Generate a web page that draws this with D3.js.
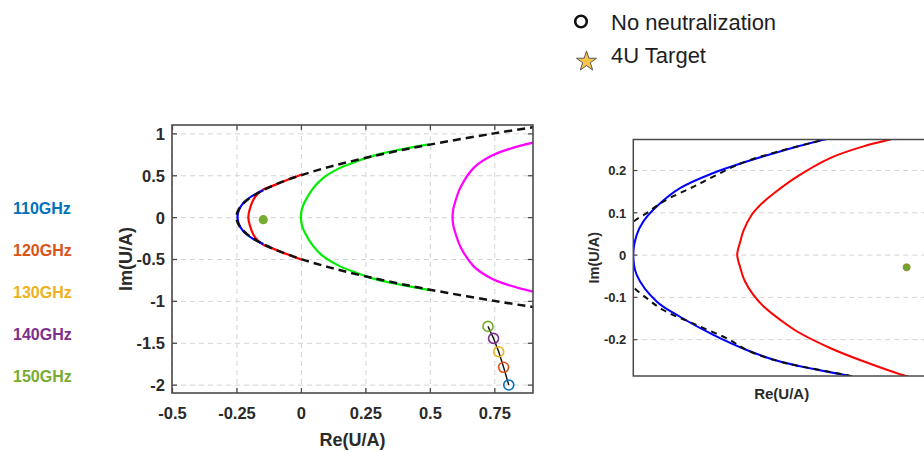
<!DOCTYPE html>
<html><head><meta charset="utf-8">
<script src="https://cdn.jsdelivr.net/npm/d3@7"></script>
<style>
html,body{margin:0;padding:0;background:#fff;}
svg{display:block;font-family:"Liberation Sans",Arial,Helvetica,sans-serif;}
</style></head>
<body><svg id="c" width="924" height="451"></svg>
<script>
// ---------- data ----------
const freqLabels = ["110GHz","120GHz","130GHz","140GHz","150GHz"];
const freqColors = ["#0072BD","#D95319","#EDB120","#7E2F8E","#77AC30"];
const noNeutRe = [0.806, 0.786, 0.767, 0.747, 0.7255];
const noNeutIm = [-2.004, -1.793, -1.607, -1.448, -1.305];
const target = [-0.146, -0.03];

const xTicks = [-0.5, -0.25, 0, 0.25, 0.5, 0.75];
const xTickLabels = ["-0.5", "-0.25", "0", "0.25", "0.5", "0.75"];
const yTicks = [-2, -1.5, -1, -0.5, 0, 0.5, 1];
const yTickLabels = ["-2", "-1.5", "-1", "-0.5", "0", "0.5", "1"];
const insetYTicks = [-0.2, -0.1, 0, 0.1, 0.2];
const insetYTickLabels = ["-0.2", "-0.1", "0", "0.1", "0.2"];

// main panel curves [Re, Im]
const dashedCurve = [[0.92,-1.08],[0.9,-1.073],[0.75,-1.0],[0.56,-0.9],[0.39,-0.8],[0.24,-0.7],[0.11,-0.6],[0.0,-0.5],[-0.09,-0.4],[-0.16,-0.3],[-0.21,-0.2],[-0.24,-0.1],[-0.25,0],
  [-0.24,0.1],[-0.21,0.2],[-0.16,0.3],[-0.09,0.4],[0.0,0.5],[0.11,0.6],[0.24,0.7],[0.39,0.8],[0.56,0.9],[0.75,1.0],[0.9,1.073],[0.92,1.08]];
const blueCurve = [[-0.146,-0.32],[-0.19,-0.25],[-0.223,-0.17],[-0.241,-0.08],[-0.246,0],[-0.241,0.08],[-0.223,0.17],[-0.19,0.25],[-0.146,0.32]];
const redCurve = [[0.0035,-0.508],[-0.056,-0.44],[-0.113,-0.37],[-0.146,-0.33],[-0.167,-0.28],[-0.184,-0.21],[-0.198,-0.1],[-0.204,0],
  [-0.198,0.1],[-0.184,0.21],[-0.167,0.28],[-0.146,0.33],[-0.113,0.37],[-0.056,0.44],[0.0035,0.508]];
const greenCurve = [[0.5,-0.87],[0.489,-0.865],[0.385,-0.806],[0.295,-0.746],[0.217,-0.667],[0.152,-0.588],[0.087,-0.47],[0.0485,-0.35],[0.016,-0.19],[0.004,-0.1],[0,0],
  [0.004,0.1],[0.016,0.19],[0.0485,0.35],[0.087,0.47],[0.152,0.588],[0.217,0.667],[0.295,0.746],[0.385,0.806],[0.489,0.865],[0.5,0.87]];
const magentaCurve = [[0.92,-0.9],[0.896,-0.886],[0.80,-0.806],[0.735,-0.726],[0.67,-0.588],[0.618,-0.35],[0.599,-0.19],[0.591,-0.1],[0.588,0],
  [0.591,0.1],[0.599,0.19],[0.618,0.35],[0.67,0.588],[0.735,0.726],[0.80,0.806],[0.896,0.886],[0.92,0.9]];

// inset (zoom) curves [Re, Im]
const insetDashed = [[-0.166,-0.295],[-0.1703,-0.287],[-0.195,-0.253],[-0.2067,-0.2256],[-0.2125,-0.202],[-0.2243,-0.1664],[-0.236,-0.131],[-0.2418,-0.103],[-0.2465,-0.0757],[-0.2485,-0.045],[-0.2495,0],
  [-0.2485,0.045],[-0.2465,0.0767],[-0.2418,0.098],[-0.236,0.1254],[-0.2243,0.164],[-0.2125,0.2045],[-0.2067,0.221],[-0.195,0.245],[-0.1798,0.2715],[-0.175,0.28]];
const insetBlue = [[-0.1703,-0.287],[-0.195,-0.253],[-0.2067,-0.2256],[-0.2184,-0.19],[-0.2301,-0.147],[-0.2383,-0.111],[-0.2453,-0.048],[-0.2465,0],
  [-0.2453,0.0466],[-0.243,0.078],[-0.2383,0.1136],[-0.2301,0.157],[-0.2184,0.193],[-0.2067,0.22],[-0.195,0.244],[-0.1798,0.2715],[-0.177,0.276]];
const insetRed = [[-0.148,-0.292],[-0.1505,-0.2878],[-0.1657,-0.2523],[-0.1774,-0.2208],[-0.1891,-0.1813],[-0.195,-0.1538],[-0.2008,-0.1222],[-0.2044,-0.0948],[-0.2073,-0.0631],[-0.2089,-0.0317],[-0.21,0],
  [-0.2089,0.0314],[-0.2079,0.0551],[-0.2049,0.0943],[-0.2008,0.1245],[-0.195,0.156],[-0.1891,0.184],[-0.1774,0.2283],[-0.1657,0.256],[-0.1566,0.2716],[-0.154,0.276]];
const insetTarget = [-0.1505, -0.03];

// ---------- drawing ----------
const svg = d3.select("#c");
const tickColor = "#2a2a2a";
const boxColor = "#4a4a4a";

function styleGrid(g){
  g.select(".domain").remove();
  g.selectAll("line").attr("stroke","#d4d4d4").attr("stroke-width",1).attr("stroke-dasharray","5,4");
  g.selectAll("text").remove();
}

// ===== main panel =====
const M = {x0:172, x1:533, y0:125, y1:393};
const x = d3.scaleLinear().domain([-0.5,0.9]).range([M.x0,M.x1]);
const y = d3.scaleLinear().domain([-2.1,1.1]).range([M.y1,M.y0]);
const W = M.x1-M.x0, H = M.y1-M.y0;

svg.append("defs").append("clipPath").attr("id","clipMain")
  .append("rect").attr("x",M.x0).attr("y",M.y0).attr("width",W).attr("height",H);

svg.append("g").attr("transform",`translate(0,${M.y1})`)
  .call(d3.axisBottom(x).tickValues(xTicks).tickSize(-H)).call(styleGrid);
svg.append("g").attr("transform",`translate(${M.x0},0)`)
  .call(d3.axisLeft(y).tickValues(yTicks).tickSize(-W)).call(styleGrid);

const line = d3.line().x(d=>x(d[0])).y(d=>y(d[1])).curve(d3.curveCatmullRom);
const plot = svg.append("g").attr("clip-path","url(#clipMain)");
plot.append("path").datum(redCurve).attr("d",line).attr("fill","none").attr("stroke","#ff0000").attr("stroke-width",2.2);
plot.append("path").datum(greenCurve).attr("d",line).attr("fill","none").attr("stroke","#00ee00").attr("stroke-width",2.2);
plot.append("path").datum(magentaCurve).attr("d",line).attr("fill","none").attr("stroke","#ff00ff").attr("stroke-width",2.2);
plot.append("path").datum(blueCurve).attr("d",line).attr("fill","none").attr("stroke","#0000ff").attr("stroke-width",2.2);
plot.append("path").datum(dashedCurve).attr("d",line).attr("fill","none").attr("stroke","#111").attr("stroke-width",2.5).attr("stroke-dasharray","8,5");

// target dot
plot.append("circle").attr("cx",x(target[0])).attr("cy",y(target[1])).attr("r",4.6).attr("fill","#77AC30");

// no neutralization points
const nn = noNeutRe.map((r,i)=>[r,noNeutIm[i]]);
plot.append("path").datum(nn).attr("d",d3.line().x(d=>x(d[0])).y(d=>y(d[1])))
  .attr("fill","none").attr("stroke","#111").attr("stroke-width",1.4);
plot.selectAll("circle.nn").data(nn).join("circle").attr("class","nn")
  .attr("cx",d=>x(d[0])).attr("cy",d=>y(d[1])).attr("r",5)
  .attr("fill","none").attr("stroke",(d,i)=>freqColors[i]).attr("stroke-width",1.6);

// axes (ticks inward)
const axB = svg.append("g").attr("transform",`translate(0,${M.y1})`)
  .call(d3.axisBottom(x).tickValues(xTicks).tickFormat((d,i)=>xTickLabels[i]).tickSizeInner(-5).tickSizeOuter(0).tickPadding(14));
const axL = svg.append("g").attr("transform",`translate(${M.x0},0)`)
  .call(d3.axisLeft(y).tickValues(yTicks).tickFormat((d,i)=>yTickLabels[i]).tickSizeInner(-5).tickSizeOuter(0).tickPadding(7));
const axT = svg.append("g").attr("transform",`translate(0,${M.y0})`)
  .call(d3.axisTop(x).tickValues(xTicks).tickFormat("").tickSizeInner(-5).tickSizeOuter(0));
const axR = svg.append("g").attr("transform",`translate(${M.x1},0)`)
  .call(d3.axisRight(y).tickValues(yTicks).tickFormat("").tickSizeInner(-5).tickSizeOuter(0));
[axB,axL,axT,axR].forEach(g=>{
  g.select(".domain").remove();
  g.selectAll("line").attr("stroke",boxColor).attr("stroke-width",1.3);
  g.selectAll("text").attr("fill",tickColor).attr("font-size","16.5px").attr("font-weight","bold").attr("font-family",null);
});
axL.selectAll("text").attr("dy","0.36em");
svg.append("rect").attr("x",M.x0).attr("y",M.y0).attr("width",W).attr("height",H)
  .attr("fill","none").attr("stroke",boxColor).attr("stroke-width",1.6);

svg.append("text").attr("x",(M.x0+M.x1)/2).attr("y",446).attr("text-anchor","middle")
  .attr("font-size","18px").attr("font-weight","bold").attr("fill",tickColor).text("Re(U/A)");
svg.append("text").attr("transform",`translate(131.5,${(M.y0+M.y1)/2}) rotate(-90)`).attr("text-anchor","middle")
  .attr("font-size","18px").attr("font-weight","bold").attr("fill",tickColor).text("Im(U/A)");

// frequency labels
const fb = [214.3, 256, 298.3, 340, 381.7];
svg.selectAll("text.freq").data(freqLabels).join("text").attr("class","freq")
  .attr("x",13).attr("y",(d,i)=>fb[i]).attr("font-size","16px").attr("font-weight","bold")
  .attr("fill",(d,i)=>freqColors[i]).text(d=>d);

// ===== inset panel =====
const I = {x0:633.3, x1:930, y0:139.5, y1:376};
const xi = d3.scaleLinear().domain([-0.2465,-0.1423]).range([I.x0,I.x1]);
const yi = d3.scaleLinear().domain([-0.2871,0.2722]).range([I.y1,I.y0]);
const IW = I.x1-I.x0, IH = I.y1-I.y0;
svg.select("defs").append("clipPath").attr("id","clipInset")
  .append("rect").attr("x",I.x0).attr("y",I.y0).attr("width",IW).attr("height",IH);

svg.append("g").attr("transform",`translate(${I.x0},0)`)
  .call(d3.axisLeft(yi).tickValues(insetYTicks).tickSize(-IW)).call(styleGrid);

const linei = d3.line().x(d=>xi(d[0])).y(d=>yi(d[1])).curve(d3.curveCatmullRom);
const ip = svg.append("g").attr("clip-path","url(#clipInset)");
ip.append("path").datum(insetRed).attr("d",linei).attr("fill","none").attr("stroke","#ff0000").attr("stroke-width",2);
ip.append("path").datum(insetBlue).attr("d",linei).attr("fill","none").attr("stroke","#0000ff").attr("stroke-width",2);
ip.append("path").datum(insetDashed).attr("d",linei).attr("fill","none").attr("stroke","#111").attr("stroke-width",2).attr("stroke-dasharray","6,5");
ip.append("circle").attr("cx",xi(insetTarget[0])).attr("cy",yi(insetTarget[1])).attr("r",3.6)
  .attr("fill","#6aa52c").attr("stroke","#b07a3a").attr("stroke-width",0.8);

const axLi = svg.append("g").attr("transform",`translate(${I.x0},0)`)
  .call(d3.axisLeft(yi).tickValues(insetYTicks).tickFormat((d,i)=>insetYTickLabels[i]).tickSizeInner(-4).tickSizeOuter(0).tickPadding(7));
axLi.select(".domain").remove();
axLi.selectAll("line").attr("stroke",boxColor).attr("stroke-width",1.2);
axLi.selectAll("text").attr("fill",tickColor).attr("font-size","13px").attr("font-weight","bold").attr("font-family",null).attr("dy","0.36em");
svg.append("rect").attr("x",I.x0).attr("y",I.y0).attr("width",IW).attr("height",IH)
  .attr("fill","none").attr("stroke",boxColor).attr("stroke-width",1.5);

svg.append("text").attr("x",(I.x0+I.x1)/2).attr("y",398.5).attr("text-anchor","middle")
  .attr("font-size","15px").attr("font-weight","bold").attr("fill",tickColor).text("Re(U/A)");
svg.append("text").attr("transform",`translate(599,${(I.y0+I.y1)/2}) rotate(-90)`).attr("text-anchor","middle")
  .attr("font-size","14.5px").attr("font-weight","bold").attr("fill",tickColor).text("Im(U/A)");

// ===== legend =====
const leg = svg.append("g");
leg.append("circle").attr("cx",581).attr("cy",21.5).attr("r",5.8).attr("fill","none").attr("stroke","#111").attr("stroke-width",2.6);
leg.append("text").attr("x",611).attr("y",29.5).attr("font-size","22px").attr("fill","#1e1e1e").text("No neutralization");
leg.append("path").attr("d",d3.symbol(d3.symbolStar).size(125)()).attr("transform","translate(586.5,61.5)")
  .attr("fill","#F6C54A").attr("stroke","#5a5a5a").attr("stroke-width",1);
leg.append("text").attr("x",611).attr("y",63).attr("font-size","22px").attr("fill","#1e1e1e").text("4U Target");
</script></body></html>
